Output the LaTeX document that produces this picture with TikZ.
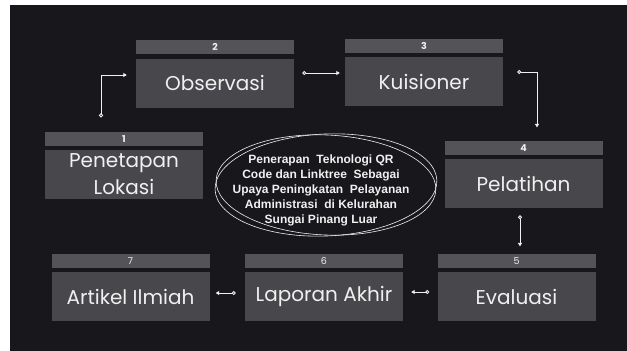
\documentclass[tikz,border=0pt]{standalone}
\usepackage{fontspec}
\newfontfamily\boxfont{Poppins}
\newfontfamily\topicfont{Liberation Sans}
\usetikzlibrary{positioning,arrows.meta}
\definecolor{bgdark}{RGB}{24,24,28}
\definecolor{bodygrey}{RGB}{72,72,76}
\definecolor{headgrey}{RGB}{84,84,88}
\definecolor{ink}{RGB}{240,240,240}
\begin{document}
\begin{tikzpicture}[x=1pt,y=-1pt,
  stepbody/.style={fill=bodygrey, minimum width=158pt, minimum height=49pt, inner sep=0pt,
    text=ink, align=center, font=\boxfont\fontsize{20}{27}\selectfont},
  stephead/.style={fill=headgrey, minimum width=158pt, minimum height=14pt, inner sep=0pt,
    text=ink, font=\boxfont\bfseries\fontsize{9.5}{9.5}\selectfont},
  flow/.style={draw=ink, line width=0.9pt,
    {Circle[open,length=4pt,width=4pt]}-{Triangle[length=3.5pt,width=4pt]}},
  ring/.style={draw=ink, line width=0.6pt}]
\useasboundingbox (0,0) rectangle (627,351);
\fill[white] (0,0) rectangle (627,351);
\fill[bgdark] (10,5) rectangle (627,351);
% steps
\node[stepbody] (lokasi) at (124,174.5) {Penetapan\\Lokasi};
\node[stephead, above=4pt of lokasi] (h1) {1};
\node[stepbody] (observasi) at (215,83) {Observasi};
\node[stephead, above=4pt of observasi] (h2) {2};
\node[stepbody] (kuisioner) at (424,81.5) {Kuisioner};
\node[stephead, above=4pt of kuisioner] (h3) {3};
\node[stepbody] (pelatihan) at (523.5,183.5) {Pelatihan};
\node[stephead, above=4pt of pelatihan] (h4) {4};
\node[stepbody] (evaluasi) at (516.5,296.5) {Evaluasi};
\node[stephead, above=4pt of evaluasi, font=\boxfont\fontsize{9.5}{9.5}\selectfont] (h5) {5};
\node[stepbody] (laporan) at (324,296.5) {Laporan Akhir};
\node[stephead, above=4pt of laporan, font=\boxfont\fontsize{9.5}{9.5}\selectfont] (h6) {6};
\node[stepbody] (artikel) at (130.5,296.5) {Artikel Ilmiah};
\node[stephead, above=4pt of artikel, font=\boxfont\fontsize{9.5}{9.5}\selectfont] (h7) {7};
% topic in the middle
\node[text=ink, align=center, font=\topicfont\bfseries\fontsize{12}{15}\selectfont] (tema) at (321,190)
  {Penerapan~ Teknologi QR\\Code dan Linktree~ Sebagai\\Upaya Peningkatan~ Pelayanan\\Administrasi~ di Kelurahan\\Sungai Pinang Luar};
\coordinate (mid) at ([xshift=5pt,yshift=5pt]tema.center);
\draw[ring, rotate around={2.5:(mid)}] (mid) ellipse (111pt and 51pt);
\draw[ring, rotate around={-2.5:(mid)}] (mid) ellipse (110pt and 50pt);
% connectors
\coordinate (c12) at ([xshift=-23pt,yshift=14pt]h1.north);
\coordinate (e12) at ([xshift=-9pt,yshift=8pt]observasi.west);
\draw[flow] (c12) |- (e12);
\coordinate (c23) at ([xshift=8pt,yshift=10pt]observasi.east);
\coordinate (e23) at ([xshift=-5pt,yshift=8.5pt]kuisioner.west);
\draw[flow] (c23) -- (c23 -| e23);
\coordinate (c34) at ([xshift=14pt,yshift=9.5pt]kuisioner.east);
\coordinate (e34) at ([xshift=13.5pt,yshift=13pt]h4.north);
\draw[flow] (c34) -| (e34);
\coordinate (c45) at ([xshift=-3.5pt,yshift=-7pt]pelatihan.south);
\coordinate (e45) at ([xshift=3.5pt,yshift=7pt]h5.north);
\draw[flow] (c45) -- (c45 |- e45);
\coordinate (c56) at ([xshift=-8pt,yshift=4.5pt]evaluasi.west);
\coordinate (e56) at ([xshift=8pt,yshift=4.5pt]laporan.east);
\draw[flow] (c56) -- (e56);
\coordinate (c67) at ([xshift=-9pt,yshift=3.5pt]laporan.west);
\coordinate (e67) at ([xshift=6pt,yshift=3.5pt]artikel.east);
\draw[flow] (c67) -- (e67);
\end{tikzpicture}
\end{document}
